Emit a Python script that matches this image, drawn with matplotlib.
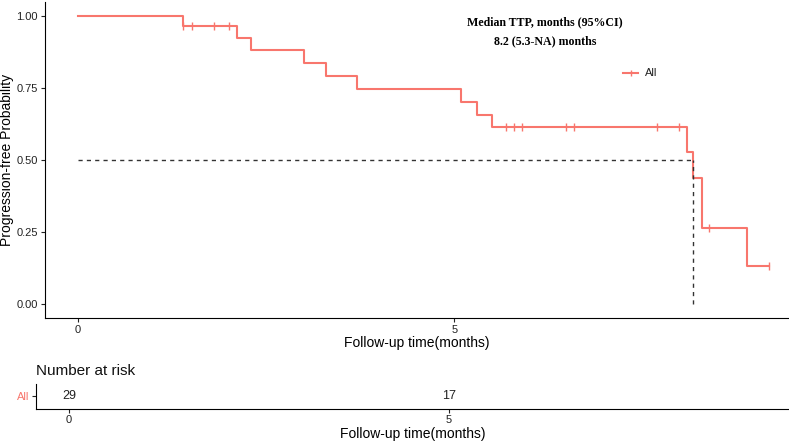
import numpy as np
import matplotlib
matplotlib.use("Agg")
import matplotlib.pyplot as plt

# 生存曲线数据
step_times = [0, 1.40, 2.11, 2.30, 3.00, 3.30, 3.71, 5.09, 5.30, 5.50, 8.09, 8.18, 8.29, 8.89]
step_surv = [1.0, 0.966, 0.923, 0.880, 0.837, 0.792, 0.746, 0.700, 0.655, 0.614, 0.526, 0.438, 0.263, 0.131]
censor_times = [1.40, 1.51, 1.80, 2.01, 5.69, 5.79, 5.90, 6.49, 6.59, 7.69, 7.99, 8.38, 9.19]
end_time = 9.19
median_time = 8.18

risk_times = [0, 5]
risk_counts = [29, 17]
x_ticks = [0, 5]
y_ticks = [0.0, 0.25, 0.5, 0.75, 1.0]

col = '#F8766D'
plt.rcParams['font.family'] = ['Liberation Sans', 'DejaVu Sans']

W, H = 789, 444
fig = plt.figure(figsize=(W / 100, H / 100), dpi=100)

# 主图
ax = fig.add_axes([45 / W, 1 - 318 / H, 1 - 45 / W, 316.4 / H])
xs = step_times + [end_time]
ys = step_surv + [step_surv[-1]]
ax.step(xs, ys, where='post', color=col, lw=1.5)


def surv_at(t):
    idx = np.searchsorted(step_times, t, side='right') - 1
    return step_surv[idx]


cy = [surv_at(t) for t in censor_times]
ax.plot(censor_times, cy, ls='none', marker='|', ms=6, mew=1.0, color=col)

# 中位数虚线
ax.plot([0, median_time], [0.5, 0.5], ls=(0, (3, 3)), color='#333333', lw=1.0)
ax.plot([median_time, median_time], [0, 0.5], ls=(0, (3, 3)), color='#333333', lw=1.0)

ax.set_xlim(-0.44, 9.45)
ax.set_ylim(-0.05, 1.05)
ax.set_xticks(x_ticks)
ax.set_yticks(y_ticks)
ax.set_yticklabels(['%.2f' % v for v in y_ticks])
ax.tick_params(labelsize=8, colors='#222222', length=3, pad=2)
for s in ['top', 'right']:
    ax.spines[s].set_visible(False)
ax.set_xlabel('Follow-up time(months)', fontsize=10, labelpad=1)
fig.text(7 / W, 1 - 160 / H, 'Progression-free Probability', rotation=90,
         ha='center', va='center', fontsize=10)

fig.text(545 / W, 1 - 22 / H, 'Median TTP, months (95%CI)',
         ha='center', va='center', fontsize=8.6, fontweight='bold', family='Liberation Serif')
fig.text(545 / W, 1 - 41 / H, '8.2 (5.3-NA) months',
         ha='center', va='center', fontsize=8.6, fontweight='bold', family='Liberation Serif')

# 图例
fig.lines.append(plt.Line2D([623 / W, 638 / W], [1 - 73 / H] * 2, transform=fig.transFigure,
                            color=col, lw=1.5))
fig.lines.append(plt.Line2D([630.5 / W], [1 - 73 / H], transform=fig.transFigure,
                            color=col, marker='|', ms=5, mew=1.0, ls='none'))
fig.text(645 / W, 1 - 73 / H, 'All', fontsize=8, va='center', ha='left', color='#222222')

# 风险表
rx = fig.add_axes([36 / W, 1 - 408.5 / H, 1 - 36 / W, 24.5 / H])
rx.set_xlim(-0.434, 9.47)
rx.set_ylim(0, 1)
for t, n in zip(risk_times, risk_counts):
    rx.text(t, 0.5, str(n), ha='center', va='center', fontsize=9, color='#222222')
rx.set_xticks(x_ticks)
rx.set_yticks([0.5])
rx.set_yticklabels(['All'])
rx.tick_params(labelsize=8, colors='#222222', length=3, pad=2)
rx.tick_params(axis='y', labelcolor=col)
for s in ['top', 'right']:
    rx.spines[s].set_visible(False)
rx.set_xlabel('Follow-up time(months)', fontsize=10, labelpad=1)
fig.text(36 / W, 1 - 371 / H, 'Number at risk', fontsize=11, va='center', ha='left', color='#111111')

fig.savefig('out.png', dpi=100)
